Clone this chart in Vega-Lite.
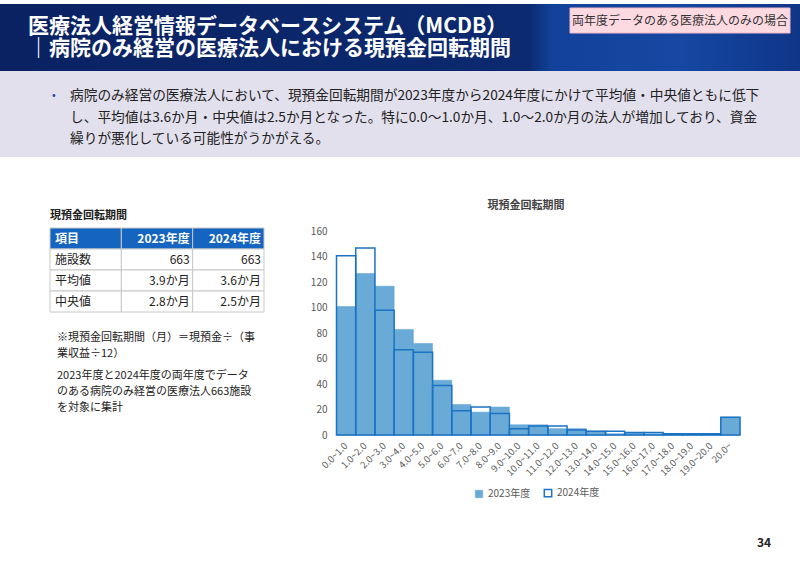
{
  "$schema": "https://vega.github.io/schema/vega-lite/v6.json",
  "width": 800,
  "height": 565,
  "autosize": {"type": "none"},
  "padding": 0,
  "background": "white",
  "config": {"view": {"stroke": null}, "font": "Noto Sans CJK JP"},
  "datasets": {
    "hist": [
      {"bin": "0.0~1.0", "year": "2023年度", "count": 101},
      {"bin": "1.0~2.0", "year": "2023年度", "count": 127},
      {"bin": "2.0~3.0", "year": "2023年度", "count": 117},
      {"bin": "3.0~4.0", "year": "2023年度", "count": 83},
      {"bin": "4.0~5.0", "year": "2023年度", "count": 72},
      {"bin": "5.0~6.0", "year": "2023年度", "count": 43},
      {"bin": "6.0~7.0", "year": "2023年度", "count": 24},
      {"bin": "7.0~8.0", "year": "2023年度", "count": 18},
      {"bin": "8.0~9.0", "year": "2023年度", "count": 22},
      {"bin": "9.0~10.0", "year": "2023年度", "count": 8},
      {"bin": "10.0~11.0", "year": "2023年度", "count": 8},
      {"bin": "11.0~12.0", "year": "2023年度", "count": 5},
      {"bin": "12.0~13.0", "year": "2023年度", "count": 5},
      {"bin": "13.0~14.0", "year": "2023年度", "count": 3},
      {"bin": "14.0~15.0", "year": "2023年度", "count": 1},
      {"bin": "15.0~16.0", "year": "2023年度", "count": 2},
      {"bin": "16.0~17.0", "year": "2023年度", "count": 1},
      {"bin": "17.0~18.0", "year": "2023年度", "count": 1},
      {"bin": "18.0~19.0", "year": "2023年度", "count": 1},
      {"bin": "19.0~20.0", "year": "2023年度", "count": 1},
      {"bin": "20.0~", "year": "2023年度", "count": 14},
      {"bin": "0.0~1.0", "year": "2024年度", "count": 141},
      {"bin": "1.0~2.0", "year": "2024年度", "count": 147},
      {"bin": "2.0~3.0", "year": "2024年度", "count": 98},
      {"bin": "3.0~4.0", "year": "2024年度", "count": 67},
      {"bin": "4.0~5.0", "year": "2024年度", "count": 65},
      {"bin": "5.0~6.0", "year": "2024年度", "count": 39},
      {"bin": "6.0~7.0", "year": "2024年度", "count": 19},
      {"bin": "7.0~8.0", "year": "2024年度", "count": 22},
      {"bin": "8.0~9.0", "year": "2024年度", "count": 17},
      {"bin": "9.0~10.0", "year": "2024年度", "count": 5},
      {"bin": "10.0~11.0", "year": "2024年度", "count": 7},
      {"bin": "11.0~12.0", "year": "2024年度", "count": 7},
      {"bin": "12.0~13.0", "year": "2024年度", "count": 4},
      {"bin": "13.0~14.0", "year": "2024年度", "count": 3},
      {"bin": "14.0~15.0", "year": "2024年度", "count": 3},
      {"bin": "15.0~16.0", "year": "2024年度", "count": 2},
      {"bin": "16.0~17.0", "year": "2024年度", "count": 2},
      {"bin": "17.0~18.0", "year": "2024年度", "count": 1},
      {"bin": "18.0~19.0", "year": "2024年度", "count": 1},
      {"bin": "19.0~20.0", "year": "2024年度", "count": 1},
      {"bin": "20.0~", "year": "2024年度", "count": 14}
    ],
    "table": [
      {"row": "項目", "col": "c1", "v": "項目"},
      {"row": "項目", "col": "c2", "v": "2023年度"},
      {"row": "項目", "col": "c3", "v": "2024年度"},
      {"row": "施設数", "col": "c1", "v": "施設数"},
      {"row": "施設数", "col": "c2", "v": "663"},
      {"row": "施設数", "col": "c3", "v": "663"},
      {"row": "平均値", "col": "c1", "v": "平均値"},
      {"row": "平均値", "col": "c2", "v": "3.9か月"},
      {"row": "平均値", "col": "c3", "v": "3.6か月"},
      {"row": "中央値", "col": "c1", "v": "中央値"},
      {"row": "中央値", "col": "c2", "v": "2.8か月"},
      {"row": "中央値", "col": "c3", "v": "2.5か月"}
    ]
  },
  "layer": [
    {
      "data": {"values": [{}]},
      "mark": {"type": "rect", "x": 0, "x2": 800, "y": 4, "y2": 71,
        "fill": {"gradient": "linear", "x1": 0, "y1": 0, "x2": 1, "y2": 0,
          "stops": [
            {"offset": 0, "color": "#0a2262"},
            {"offset": 0.66, "color": "#0c2a70"},
            {"offset": 0.69, "color": "#12419a"},
            {"offset": 0.85, "color": "#1548a3"},
            {"offset": 1, "color": "#0f3587"}
          ]}},
      "encoding": {}
    },
    {
      "data": {"values": [{}]},
      "mark": {"type": "rect", "x": 0, "x2": 800, "y": 71, "y2": 157, "fill": "#e3e0ed"},
      "encoding": {}
    },
    {
      "data": {"values": [{}]},
      "mark": {"type": "rect", "x": 570, "x2": 790, "y": 8, "y2": 33, "fill": "#fdd9e1", "stroke": "#f3b8c5", "strokeWidth": 1},
      "encoding": {}
    },
    {
      "data": {"values": [{}]},
      "mark": {"type": "text", "x": 680, "y": 21, "align": "center", "baseline": "middle", "fontSize": 12, "fill": "#333333",
        "text": "両年度データのある医療法人のみの場合"},
      "encoding": {}
    },
    {
      "data": {"values": [{}]},
      "mark": {"type": "text", "x": 28, "y": 27, "align": "left", "baseline": "middle", "fontSize": 21, "fontWeight": "bold", "fill": "#ffffff", "lineHeight": 22,
        "text": ["医療法人経営情報データベースシステム（MCDB）", "｜病院のみ経営の医療法人における現預金回転期間"]},
      "encoding": {}
    },
    {
      "data": {"values": [{}]},
      "mark": {"type": "text", "x": 52, "y": 96, "align": "left", "baseline": "middle", "fontSize": 11, "fill": "#2a4a9c", "text": "•"},
      "encoding": {}
    },
    {
      "data": {"values": [{}]},
      "mark": {"type": "text", "x": 70, "y": 96, "align": "left", "baseline": "middle", "fontSize": 13.7, "fill": "#222222", "lineHeight": 21.5,
        "text": ["病院のみ経営の医療法人において、現預金回転期間が2023年度から2024年度にかけて平均値・中央値ともに低下", "し、平均値は3.6か月・中央値は2.5か月となった。特に0.0～1.0か月、1.0～2.0か月の法人が増加しており、資金", "繰りが悪化している可能性がうかがえる。"]},
      "encoding": {}
    },
    {
      "data": {"values": [{}]},
      "mark": {"type": "text", "x": 50, "y": 216, "align": "left", "baseline": "middle", "fontSize": 11, "fontWeight": "bold", "fill": "#222222", "text": "現預金回転期間"},
      "encoding": {}
    },
    {
      "data": {"name": "table"},
      "encoding": {
        "x": {"field": "col", "type": "nominal", "scale": {"domain": ["c1", "c2", "c3"], "range": [50, 264], "paddingInner": 0, "paddingOuter": 0}, "axis": null},
        "y": {"field": "row", "type": "nominal", "sort": null, "scale": {"domain": ["項目", "施設数", "平均値", "中央値"], "range": [228, 312], "paddingInner": 0, "paddingOuter": 0}, "axis": null}
      },
      "layer": [
        {
          "mark": {"type": "rect", "stroke": "#c8c8c8", "strokeWidth": 1},
          "encoding": {"fill": {"condition": {"test": "datum.row === '項目'", "value": "#1565c0"}, "value": "#ffffff"}}
        },
        {
          "transform": [{"filter": "datum.row === '項目' && datum.col === 'c1'"}],
          "mark": {"type": "text", "align": "left", "baseline": "middle", "dx": 5, "fontSize": 12, "fontWeight": "bold", "fill": "#ffffff"},
          "encoding": {"x": {"field": "col", "type": "nominal", "bandPosition": 0}, "text": {"field": "v"}}
        },
        {
          "transform": [{"filter": "datum.row === '項目' && datum.col !== 'c1'"}],
          "mark": {"type": "text", "align": "right", "baseline": "middle", "dx": -3, "fontSize": 12, "fontWeight": "bold", "fill": "#ffffff"},
          "encoding": {"x": {"field": "col", "type": "nominal", "bandPosition": 1}, "text": {"field": "v"}}
        },
        {
          "transform": [{"filter": "datum.row !== '項目' && datum.col === 'c1'"}],
          "mark": {"type": "text", "align": "left", "baseline": "middle", "dx": 5, "fontSize": 12, "fill": "#222222"},
          "encoding": {"x": {"field": "col", "type": "nominal", "bandPosition": 0}, "text": {"field": "v"}}
        },
        {
          "transform": [{"filter": "datum.row !== '項目' && datum.col !== 'c1'"}],
          "mark": {"type": "text", "align": "right", "baseline": "middle", "dx": -3, "fontSize": 12, "fill": "#222222"},
          "encoding": {"x": {"field": "col", "type": "nominal", "bandPosition": 1}, "text": {"field": "v"}}
        }
      ]
    },
    {
      "data": {"values": [{}]},
      "mark": {"type": "text", "x": 57, "y": 338, "align": "left", "baseline": "middle", "fontSize": 11, "fill": "#222222", "lineHeight": 16,
        "text": ["※現預金回転期間（月）＝現預金÷（事", "業収益÷12）"]},
      "encoding": {}
    },
    {
      "data": {"values": [{}]},
      "mark": {"type": "text", "x": 57, "y": 376, "align": "left", "baseline": "middle", "fontSize": 11, "fill": "#222222", "lineHeight": 16,
        "text": ["2023年度と2024年度の両年度でデータ", "のある病院のみ経営の医療法人663施設", "を対象に集計"]},
      "encoding": {}
    },
    {
      "data": {"values": [{}]},
      "mark": {"type": "text", "x": 764, "y": 543, "align": "center", "baseline": "middle", "fontSize": 12, "fontWeight": "bold", "fill": "#222222", "text": "34"},
      "encoding": {}
    },
    {
      "data": {"values": [{}]},
      "mark": {"type": "text", "x": 526, "y": 206, "align": "center", "baseline": "middle", "fontSize": 11, "fontWeight": "bold", "fill": "#444444", "text": "現預金回転期間"},
      "encoding": {}
    },
    {
      "data": {"name": "hist"},
      "encoding": {
        "x": {"field": "bin", "type": "nominal", "sort": null,
          "scale": {"domain": ["0.0~1.0", "1.0~2.0", "2.0~3.0", "3.0~4.0", "4.0~5.0", "5.0~6.0", "6.0~7.0", "7.0~8.0", "8.0~9.0", "9.0~10.0", "10.0~11.0", "11.0~12.0", "12.0~13.0", "13.0~14.0", "14.0~15.0", "15.0~16.0", "16.0~17.0", "17.0~18.0", "18.0~19.0", "19.0~20.0", "20.0~"], "range": [336.5, 740], "paddingInner": 0, "paddingOuter": 0},
          "axis": {"orient": "bottom", "offset": -130, "title": null, "labelAngle": -45, "labelAlign": "right", "labelBaseline": "middle", "labelPadding": 9, "labelFontSize": 9.5, "labelColor": "#595959", "labelOverlap": false, "ticks": false, "domain": true, "domainColor": "#d9d9d9", "grid": false}},
        "y": {"field": "count", "type": "quantitative", "stack": null,
          "scale": {"domain": [0, 160], "range": [435, 231.5], "nice": false, "zero": true},
          "axis": {"orient": "left", "offset": -331, "title": null, "values": [0, 20, 40, 60, 80, 100, 120, 140, 160], "labelPadding": 4, "labelFontSize": 10, "labelColor": "#595959", "ticks": false, "domain": false, "grid": false}}
      },
      "layer": [
        {
          "mark": {"type": "bar"},
          "encoding": {
            "fill": {"field": "year", "type": "nominal", "scale": {"domain": ["2023年度", "2024年度"], "range": ["#69aad7", "rgba(255,255,255,0)"]},
              "legend": {"orient": "none", "legendX": 474, "legendY": 488, "direction": "horizontal", "title": null, "symbolType": "square", "symbolSize": 55, "symbolStrokeWidth": 1.5, "labelFontSize": 10, "labelColor": "#595959", "columnPadding": 10}},
            "stroke": {"field": "year", "type": "nominal", "scale": {"domain": ["2023年度", "2024年度"], "range": ["#69aad7", "#1a73c4"]},
              "legend": {"orient": "none", "legendX": 474, "legendY": 488, "direction": "horizontal", "title": null, "symbolType": "square", "symbolSize": 55, "symbolStrokeWidth": 1.5, "labelFontSize": 10, "labelColor": "#595959", "columnPadding": 10}},
            "strokeWidth": {"field": "year", "type": "ordinal", "scale": {"domain": ["2023年度", "2024年度"], "range": [0.6, 1.5]}, "legend": null}
          }
        },
        {
          "data": {"values": [{}]},
          "mark": {"type": "rect", "fill": "#ffffff", "fillOpacity": 0, "stroke": "#e8506e", "strokeWidth": 1.5, "cornerRadius": 8, "xOffset": -6, "x2Offset": 6, "y2Offset": 6},
          "encoding": {
            "x": {"datum": "0.0~1.0", "bandPosition": 0},
            "x2": {"datum": "1.0~2.0", "bandPosition": 1},
            "y": {"datum": 156.5},
            "y2": {"datum": 0}
          }
        },
        {
          "data": {"values": [{}]},
          "mark": {"type": "rule", "stroke": "#e8506e", "strokeWidth": 1.3},
          "encoding": {
            "x": {"datum": "2.0~3.0", "bandPosition": 0.46},
            "x2": {"datum": "4.0~5.0", "bandPosition": 0.63},
            "y": {"datum": 127},
            "y2": {"datum": 145.4}
          }
        },
        {
          "data": {"values": [{}]},
          "mark": {"type": "text", "align": "left", "baseline": "middle", "fontSize": 12.5, "fill": "#e8506e", "text": "0.0～1.0か月、1.0～2.0か月の法人が増加"},
          "encoding": {
            "x": {"datum": "5.0~6.0", "bandPosition": 0.7},
            "y": {"datum": 143}
          }
        }
      ]
    }
  ],
  "resolve": {"scale": {"x": "independent", "y": "independent"}}
}
